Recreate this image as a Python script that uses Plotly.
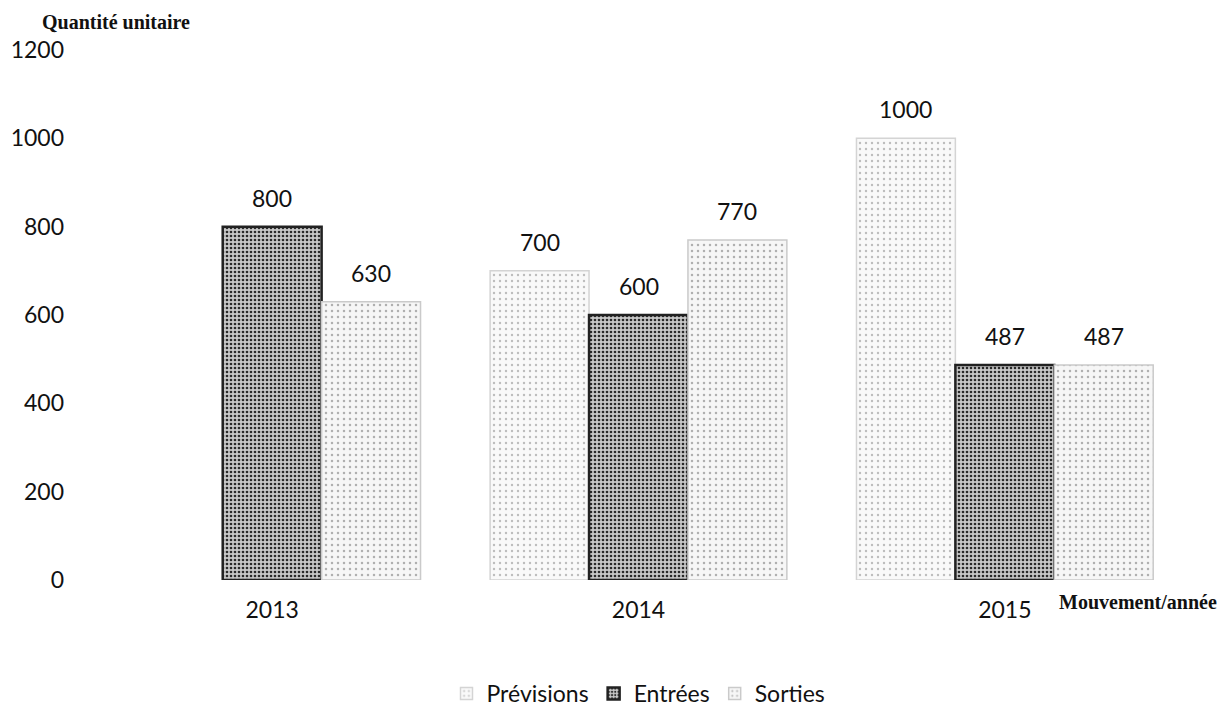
import plotly.graph_objects as go

# Stock movements per year (units)
years = ["2013", "2014", "2015"]
previsions = [None, 700, 1000]
entrees = [800, 600, 487]
sorties = [630, 770, 487]

series_names = ["Prévisions", "Entrées", "Sorties"]
series_values = [previsions, entrees, sorties]

y_ticks = [0, 200, 400, 600, 800, 1000, 1200]

label_font = dict(family="Lato, 'Noto Sans', sans-serif", size=23, color="#111111")
title_font = dict(family="'Liberation Serif', 'DejaVu Serif', serif", size=20, color="#111111")

styles = [
    dict(  # Prévisions: pale speckled fill
        line=dict(color="#d4d4d4", width=1.5),
        pattern=dict(shape=".", fgcolor="#bdbdbd", bgcolor="#f9f9f9",
                     size=6, solidity=0.12, fillmode="replace"),
    ),
    dict(  # Entrées: dark grainy fill with heavy edges
        line=dict(color="#222222", width=2.5),
        pattern=dict(shape=".", fgcolor="#2a2a2a", bgcolor="#c8c8c8",
                     size=4, solidity=0.35, fillmode="replace"),
    ),
    dict(  # Sorties: pale speckled fill
        line=dict(color="#cacaca", width=1.5),
        pattern=dict(shape=".", fgcolor="#b0b0b0", bgcolor="#f6f6f6",
                     size=6, solidity=0.14, fillmode="replace"),
    ),
]

W, H = 1228, 706
plot_left, plot_right = 89, 1188
plot_top, plot_bottom = 50, 580
plot_w = plot_right - plot_left
plot_h = plot_bottom - plot_top

fig = go.Figure()
for name, vals, st in zip(series_names, series_values, styles):
    fig.add_trace(go.Bar(name=name, x=years, y=vals, marker=st))

# Value labels above each bar, offset to the bar's slot in its group
slot_px = plot_w / len(years)
bargap = 0.19
bar_px = slot_px * (1 - bargap) / len(series_names)
for i, vals in enumerate(series_values):
    for k, v in enumerate(vals):
        if v is None:
            continue
        fig.add_annotation(
            x=k, y=v, xref="x", yref="y",
            text=str(v), showarrow=False,
            xanchor="center", yanchor="bottom",
            xshift=(i - 1) * bar_px, yshift=13,
            font=label_font,
        )


def paper_x(px):
    return (px - plot_left) / plot_w


def paper_y(py):
    return (plot_bottom - py) / plot_h


# Axis titles
fig.add_annotation(
    x=paper_x(40), y=paper_y(22), xref="paper", yref="paper",
    text="<b>Quantité unitaire</b>", showarrow=False, font=title_font,
    xanchor="left", yanchor="middle",
)
fig.add_annotation(
    x=paper_x(1057), y=paper_y(602), xref="paper", yref="paper",
    text="<b>Mouvement/année</b>", showarrow=False, font=title_font,
    xanchor="left", yanchor="middle",
)

fig.update_layout(
    width=W, height=H,
    margin=dict(l=plot_left, r=W - plot_right, t=plot_top, b=H - plot_bottom,
                autoexpand=False),
    paper_bgcolor="white", plot_bgcolor="white",
    barmode="group", bargap=bargap, bargroupgap=0,
    showlegend=True,
    legend=dict(
        orientation="h", x=0.5, xanchor="center",
        y=paper_y(H + 9), yanchor="bottom",
        font=label_font, itemwidth=30, traceorder="normal",
    ),
    xaxis=dict(
        type="category", range=[-0.5, 2.5], showgrid=False, showline=False,
        zeroline=False, ticks="", tickfont=label_font, ticklabelstandoff=14,
    ),
    yaxis=dict(
        range=[0, 1200], tickvals=y_ticks, showgrid=False, showline=False,
        zeroline=False, ticks="", tickfont=label_font, ticklabelstandoff=24,
    ),
)

fig.write_html("out.html")
